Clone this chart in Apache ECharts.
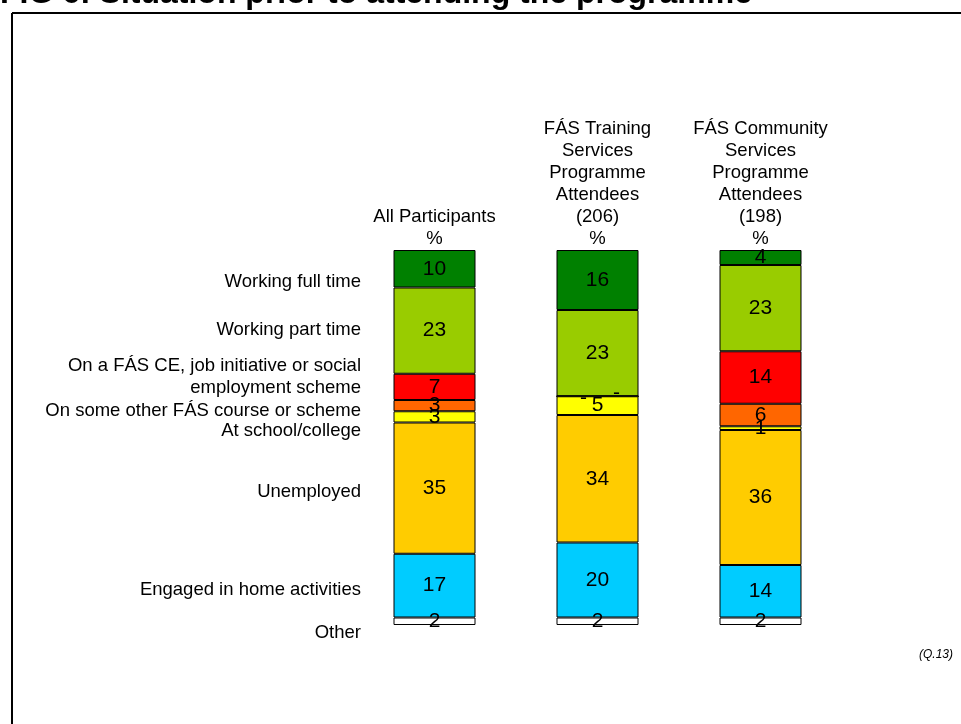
<!DOCTYPE html>
<html>
<head>
<meta charset="utf-8">
<script src="https://cdn.jsdelivr.net/npm/echarts@6/dist/echarts.min.js"></script>
<style>
html,body{margin:0;padding:0;background:#fff;}
#chart{width:961px;height:724px;}
</style>
</head>
<body>
<div id="chart"></div>
<script>
// ---- Data ----
var groups = [
  'All Participants\n%',
  'FÁS Training\nServices\nProgramme\nAttendees\n(206)\n%',
  'FÁS Community\nServices\nProgramme\nAttendees\n(198)\n%'
];
var situations = [
  'Working full time',
  'Working part time',
  'On a FÁS CE, job initiative or social\nemployment scheme',
  'On some other FÁS course or scheme',
  'At school/college',
  'Unemployed',
  'Engaged in home activities',
  'Other'
];
var allParticipants    = [10, 23, 7, 3, 3, 35, 17, 2];
var trainingAttendees  = [16, 23, 0, 0, 5, 34, 20, 2];
var communityAttendees = [4, 23, 14, 6, 1, 36, 14, 2];

// ---- Styles / layout ----
var colors = ['#008000', '#99CC00', '#FF0000', '#FF6600', '#FFFF00', '#FFCC00', '#00CCFF', '#FFFFFF'];
var rowLabelY = [282, 330, 377, 411, 431, 492, 590, 633];
var zeroOffsets = { 2: [-14, 2], 3: [19, -3] };
var FONT = '"Liberation Sans", Arial, Helvetica, sans-serif';

var columns = [allParticipants, trainingAttendees, communityAttendees];

var series = situations.map(function (name, si) {
  return {
    name: name,
    type: 'bar',
    stack: 'total',
    barWidth: 82,
    itemStyle: { color: colors[si], borderColor: '#000', borderWidth: 1 },
    label: {
      show: true,
      position: 'inside',
      color: '#000',
      fontFamily: FONT,
      fontSize: 21,
      formatter: function (p) { return p.value === 0 ? '-' : String(p.value); }
    },
    data: columns.map(function (col) {
      var v = col[si];
      if (v === 0) {
        return { value: 0, label: { offset: zeroOffsets[si] || [0, 0] } };
      }
      return v;
    })
  };
});

var graphics = [
  {
    type: 'text', left: 0, top: -22, silent: true,
    style: { text: 'FIG 6: Situation prior to attending the programme', font: 'bold 32px ' + FONT, fill: '#000' }
  },
  { type: 'line', silent: true, shape: { x1: 12, y1: 13, x2: 961, y2: 13 }, style: { stroke: '#000', lineWidth: 2 } },
  { type: 'line', silent: true, shape: { x1: 12, y1: 13, x2: 12, y2: 724 }, style: { stroke: '#000', lineWidth: 2 } },
  {
    type: 'text', silent: true, x: 953, y: 655,
    style: { text: '(Q.13)', font: 'italic 12px ' + FONT, fill: '#000', align: 'right', verticalAlign: 'middle' }
  }
];
situations.forEach(function (s, i) {
  graphics.push({
    type: 'text', silent: true, x: 361, y: rowLabelY[i],
    style: { text: s, font: '18.5px ' + FONT, fill: '#000', align: 'right', verticalAlign: 'middle', lineHeight: 22 }
  });
});

var chart = echarts.init(document.getElementById('chart'));
chart.setOption({
  animation: false,
  backgroundColor: '#fff',
  grid: { left: 353, top: 250, width: 489, height: 375 },
  xAxis: {
    type: 'category',
    position: 'top',
    data: groups,
    axisLine: { show: false },
    axisTick: { show: false },
    axisLabel: { fontFamily: FONT, fontSize: 18.5, color: '#000', lineHeight: 22, margin: 0, interval: 0 }
  },
  yAxis: { type: 'value', inverse: true, min: 0, max: 100, show: false },
  series: series,
  graphic: graphics
});
</script>
</body>
</html>
